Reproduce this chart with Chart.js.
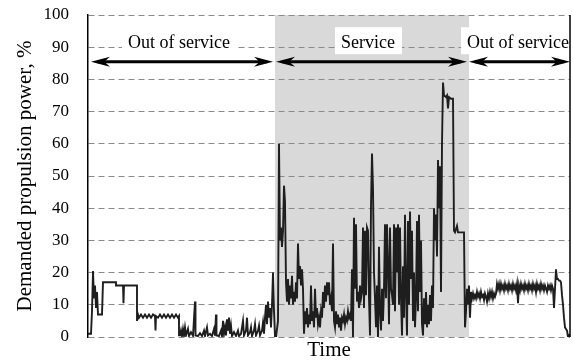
<!DOCTYPE html>
<html>
<head>
<meta charset="utf-8">
<script src="https://cdn.jsdelivr.net/npm/chart.js@4.4.1/dist/chart.umd.min.js"></script>
<style>
  html, body { margin: 0; padding: 0; background: #fff; }
</style>
</head>
<body>
<canvas id="myChart" width="573" height="363"></canvas>
<script>
// time axis is in arbitrary units (0..482), power in % of max
const times1 = [0,3,4,5,6,7,8,9,10,14, 15,28,28,35,35.5,36,49,49,50,51, 53,55,57,59,61,63,65,67,67.5,68,
  70,72,74,76,78,80,82,84,86,88, 90,91,91,
  92,93,94,95,96,97,98,100,101,103, 105,107,107.5,110,112,114,116,117,119,120, 122,124,126,127,128,128.5,131,133,134,135,
  136,137,138,139,140,141,142,143,144,146, 148,150,151,153,155,156,158,159,160,162, 163,164,166,167,168,170,171,172,174,175,
  176,177,178,179,180,181,182,183,184,185, 186,187];
const power1 = [1,1,8,20.5,12,16,9,14,7,7, 17,17,16,16,10.5,16,16,5,7,6, 7,6,7,6,7,6,7,6.5,2,6.5,
  6,7,6,7,6,7,6,7,6,7, 6,6.5,0.5,
  0.5,2,0.3,2.5,0.5,3,0.5,2.5,0.3,1.5, 0.4,11,0.5,0.3,1.2,0.3,2,0.3,3,0.5, 1,0.3,2.5,0.4,7,0.5,0.3,2,0.3,5,
  1,3,0.5,5.5,2,6,1,3.5,0.3,1.5, 0.3,2,0.3,1,5,0.5,2,6,0.5,1.5, 3,0.3,2,4,0.5,2,3.5,0.5,2,4.5,
  1,6,10,4,11,6,9,3,10,20, 8,0];

const times2 = [188,190,191,192,193,194,195,196,197,198, 199,200,201,202,203,204,205,206,207,208,
  209,210,211,212,213,214,215,216,217,218, 219,220,221,222,223,224,225,226,227,228,
  229,230,231,232,233,234,235,236,237,238, 239,240,241,242,243,244,245,246,247,248,
  249,250,251,252,253,254,255,256,257,258, 259,260,261,262,263,264,265,266,267,268,
  269,270,271,272,273,274,275,276,277,278, 279,280,281,282,283,284,285,286,287,288,
  289,290,291,292,293,294,295,296,297,298, 299,300,301,302,303,304,305,306,307,308,
  309,310,311,312,313,314,315,316,317,318, 319,320,321,322,323,324,325,326,327,328,
  329,330,331,332,333,334,335,336,337,338, 339,340,341,342,343,344,345,346,347,348,
  349,350,351,352,353,354,355,356,358,359, 360,361,363,365,366,367,369,370,376,377,
  378,379,380,381];
const power2 = [0,5,60,30,34,28,33,47,42,17, 11,18,10,16,12,19,10,14,11,17,
  12,29,18,22,16,21,15,1,8,4, 9,3,7,4,16,5,8,3,15,6,
  9,4,6,3,8,6,14,9,16,11, 17,13,17,10,12,8,29,5,3,8,
  4,7,3,6,2,6,5,7,4,6, 5,8,6,7,5,21,0,37,15,35,
  11,14,9,16,12,14,34,9,33,13, 34,33,12,0.5,41,57,46,20,12,3,
  16,0,28,8,2,15,5,15,35,12, 35,22,4,34,15,13,10,35,8,34,
  20,35,10,34,12,0.5,22,6,38,14, 0.5,36,10,39,18,33,5,20,3,12,
  36,8,38,14,30,4,0.5,12,4,14, 3,10,4,13,5,16,9,40,30,38,
  25,55,40,53,14,60,79,75,74.5,75, 71,74.5,74,74,33,32.5,34.5,32.5,32.5,3,
  8,15,10,16];

const times3 = [382,383,384,385,386,387,388,389,390,391, 392,393,394,395,396,397,398,399,400,401,
  402,403,404,405,406,407,408,409,410,411, 412,413,414,415,416,417,418,419,420,421,
  422,423,424,425,426,427,428,429,430,431, 432,433,434,435,436,437,438,439,440,441,
  442,443,444,445,446,447,448,449,450,451, 452,453,454,455,456,457,458,459,460,461,
  462,463,464,465,466,467,468,469,470,471, 472,473,474,475,476,477,478,479,480,481,
  482];
const power3 = [6,14,12,13.5,12,13,12,14,12.5,13.5, 12,14,12.5,13,11.5,13.5,12.5,11,13.5,12,
  14,12.5,14,12,13.5,12.5,13.5,16.5,15,16.5, 14.5,16.5,15,16,14.5,16.5,15,16,14.5,16.5,
  15,16,14.5,16.5,15,16,14.5,16.5,10.5,16, 14.5,16.5,15,16,14.5,16.5,15,16,14.5,16.5,
  15,16,14.5,16.5,15,16,14,16.5,15,16, 14.5,16.5,15,16,14.5,16,15,14,16,15,
  16,14.5,16,15,9,15,21,18,18,17.5, 17.5,17,13,10,6,3,2.5,2,0,0.5,
  0];

const yTicks = [0,10,20,30,40,50,60,70,80,90,100];
const phaseStart = [0, 187, 381];
const phaseEnd = [187, 381, 482];
const phaseNames = ['Out of service', 'Service', 'Out of service'];
const shaded = [false, true, false];
const arrowFrom = [3, 188, 381];
const arrowTo = [185, 379, 482];
const labelAt = [91, 280, 430];
const arrowLevel = 85.5;
const labelLevel = 90;

const times = times1.concat(times2, times3);
const power = power1.concat(power2, power3);

const serif = 'Liberation Serif';

const phasePlugin = {
  id: 'phases',
  beforeDraw(chart) {
    const { ctx, chartArea: a, scales: { x } } = chart;
    ctx.save();
    ctx.fillStyle = '#d9d9d9';
    phaseStart.forEach((s, i) => {
      if (!shaded[i]) return;
      const x0 = x.getPixelForValue(s);
      const x1 = x.getPixelForValue(phaseEnd[i]);
      ctx.fillRect(x0, a.top, x1 - x0, a.bottom - a.top);
    });
    ctx.restore();
  },
  afterDraw(chart) {
    const { ctx, chartArea: a, scales: { x, y } } = chart;
    ctx.save();
    // right frame line
    ctx.strokeStyle = '#000';
    ctx.lineWidth = 1.5;
    ctx.beginPath();
    ctx.moveTo(a.right, a.top);
    ctx.lineTo(a.right, a.bottom);
    ctx.stroke();

    // labels on white boxes
    ctx.font = '18px "' + serif + '"';
    ctx.textAlign = 'center';
    ctx.textBaseline = 'alphabetic';
    const ly = y.getPixelForValue(labelLevel) + 1;
    phaseNames.forEach((name, i) => {
      const cx = x.getPixelForValue(labelAt[i]);
      const w = ctx.measureText(name).width;
      ctx.fillStyle = '#fff';
      const bx0 = cx - w / 2 - 6;
      const bx1 = Math.min(cx + w / 2 + 7, a.right - 1);
      ctx.fillRect(bx0, ly - 21, bx1 - bx0, 27);
      ctx.fillStyle = '#000';
      ctx.fillText(name, cx, ly);
    });

    // double-headed arrows
    const ay = y.getPixelForValue(arrowLevel);
    const head = (tx, dir) => {
      const L = 19, h = 5;
      ctx.beginPath();
      ctx.moveTo(tx, ay);
      ctx.lineTo(tx + dir * L, ay - h);
      ctx.lineTo(tx + dir * L * 0.7, ay);
      ctx.lineTo(tx + dir * L, ay + h);
      ctx.closePath();
      ctx.fill();
    };
    ctx.fillStyle = '#000';
    ctx.strokeStyle = '#000';
    ctx.lineWidth = 3;
    arrowFrom.forEach((f, i) => {
      const x0 = x.getPixelForValue(f);
      const x1 = x.getPixelForValue(arrowTo[i]);
      ctx.beginPath();
      ctx.moveTo(x0 + 6, ay);
      ctx.lineTo(x1 - 6, ay);
      ctx.stroke();
      head(x0, 1);
      head(x1, -1);
    });
    ctx.restore();
  }
};

new Chart(document.getElementById('myChart'), {
  type: 'line',
  data: {
    datasets: [{
      data: times.map((t, i) => ({ x: t, y: power[i] })),
      borderColor: '#1e1e1e',
      borderWidth: 1.9,
      pointRadius: 0,
      tension: 0,
      fill: false
    }]
  },
  options: {
    responsive: false,
    animation: false,
    devicePixelRatio: 1,
    layout: { padding: { top: 15, right: 3, left: 0, bottom: 0 } },
    plugins: { legend: { display: false }, tooltip: { enabled: false } },
    scales: {
      x: {
        type: 'linear',
        min: 0,
        max: 482,
        grid: { display: false },
        border: { display: false },
        ticks: { display: false },
        title: {
          display: true,
          text: 'Time',
          color: '#000',
          font: { family: serif, size: 21 },
          padding: { top: 0, bottom: 0 }
        },
        afterFit(s) { s.height = 26; s.paddingTop = 0; s.paddingBottom = 0; }
      },
      y: {
        min: 0,
        max: 100,
        afterBuildTicks(s) { s.ticks = yTicks.map(v => ({ value: v })); },
        grid: {
          color: '#8a8a8a',
          lineWidth: 1,
          drawTicks: false
        },
        border: { display: true, color: '#000', width: 1.5, dash: [6, 4] },
        ticks: {
          color: '#000',
          padding: 19,
          font: { family: serif, size: 17 }
        },
        title: {
          display: true,
          text: 'Demanded propulsion power, %',
          color: '#000',
          font: { family: serif, size: 21 },
          padding: { top: 13, bottom: 0 }
        },
        afterFit(s) { s.width = 88; s.paddingTop = 0; s.paddingBottom = 0; }
      }
    }
  },
  plugins: [phasePlugin]
});
</script>
</body>
</html>
